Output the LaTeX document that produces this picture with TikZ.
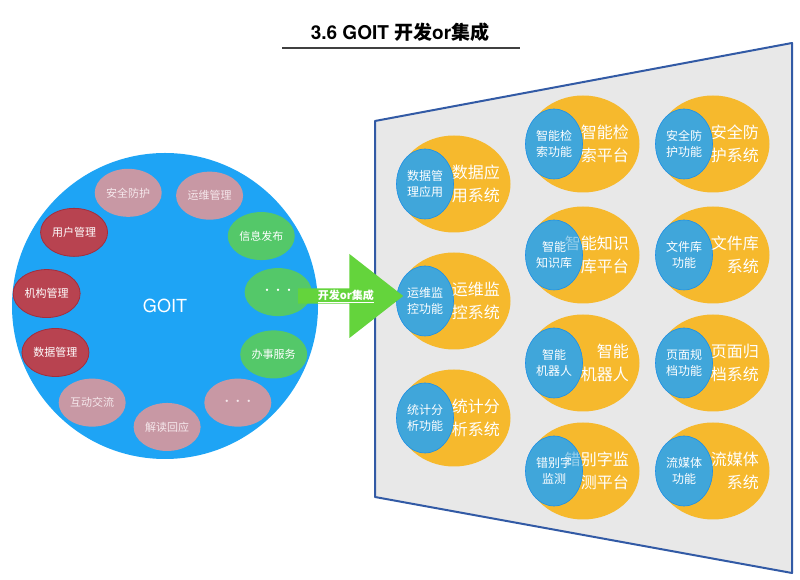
\documentclass[tikz,border=0pt]{standalone}
\usepackage{fontspec}
\setmainfont{TeX Gyre Heros}
\newfontfamily\cjk{Noto Sans CJK SC}
\usetikzlibrary{positioning,shapes.geometric,shapes.arrows}
\definecolor{goitblue}{RGB}{30,164,245}
\definecolor{modpink}{RGB}{200,152,164}
\definecolor{modpinktext}{RGB}{245,232,236}
\definecolor{modred}{RGB}{184,67,80}
\definecolor{modredline}{RGB}{165,45,60}
\definecolor{modgreen}{RGB}{84,200,105}
\definecolor{sysyellow}{RGB}{246,185,45}
\definecolor{funblue}{RGB}{64,166,218}
\definecolor{funline}{RGB}{30,144,230}
\definecolor{panelfill}{RGB}{232,232,232}
\definecolor{panelline}{RGB}{50,90,165}
\definecolor{arrowgreen}{RGB}{100,212,60}
\tikzset{titletext/.style={font=\bfseries\fontsize{19}{21}\selectfont,inner sep=0pt},
  titleline/.style={line width=1.2pt,black!75},
  goitnode/.style={circle,fill=goitblue,minimum size=306pt,inner sep=0pt,text=white,font=\fontsize{18}{20}\selectfont},
  modnode/.style={ellipse,minimum width=67pt,minimum height=48pt,inner sep=0pt,text=white,font=\cjk\fontsize{11}{13}\selectfont},
  pinkmod/.style={modnode,fill=modpink,text=modpinktext},
  redmod/.style={modnode,fill=modred,draw=modredline,line width=0.8pt},
  greenmod/.style={modnode,fill=modgreen},
  panel/.style={fill=panelfill,draw=panelline,line width=2pt,line join=round},
  sysnode/.style={ellipse,fill=sysyellow,minimum width=113pt,minimum height=97pt,inner sep=0pt},
  funbase/.style={ellipse,fill=funblue,minimum width=57pt,minimum height=70pt,inner sep=0pt},
  funnode/.style={funbase,draw=funline,line width=0.6pt,fill opacity=0.55,text opacity=1,
    text=white,align=center,font=\cjk\fontsize{12}{16}\selectfont},
  systext/.style={anchor=east,align=right,inner sep=0pt,text=white,font=\cjk\fontsize{16}{23}\selectfont},
  bigarrow/.style={single arrow,fill=arrowgreen,minimum height=105pt,minimum width=84pt,
    single arrow head extend=30pt,single arrow tip angle=76,inner sep=0pt,
    text=white,font=\cjk\bfseries\fontsize{11}{13}\selectfont}
}

\begin{document}
\begin{tikzpicture}[x=1pt,y=1pt]
  \useasboundingbox (0,0) rectangle (800,580);

  % Title
  \node[titletext,anchor=base] (title) at (400,540) {3.6 GOIT {\cjk 开发}or{\cjk 集成}};
  \draw[titleline] ([xshift=-118pt,yshift=-8pt]title.base) -- ([xshift=120pt,yshift=-8pt]title.base);

  % GOIT platform and its modules
  \node[goitnode] (goit) at (165,274) {GOIT};
  \foreach \a/\r/\t/\s in {108/119/安全防护/pinkmod, 68/119/运维管理/pinkmod, 36/119/信息发布/greenmod,
      7/114/···/greenmod, -24/119/办事服务/greenmod, -53/121/···/pinkmod,
      -89/121/解读回应/pinkmod, -127/121/互动交流/pinkmod, -157/119/数据管理/redmod,
      174/119/机构管理/redmod, 141/117/用户管理/redmod}
    \node[\s] (mod\a) at ([shift={(\a:\r)}]goit.center) {\t};

  % Target panel
  \coordinate (ptl) at (375,459);
  \coordinate (ptr) at (792,537);
  \coordinate (pbr) at (792,7);
  \coordinate (pbl) at (375,83);
  \filldraw[panel] (ptl) -- (ptr) -- (pbr) -- (pbl) -- cycle;

  % Systems on the panel
  \foreach \n/\x/\y/\f/\s in {
      data/454/396/{数据管\\理应用}/{数据应\\用系统},
      ops/454/279/{运维监\\控功能}/{运维监\\控系统},
      stat/454/162/{统计分\\析功能}/{统计分\\析系统},
      search/583/436/{智能检\\索功能}/{智能检\\索平台},
      know/583/325/{智能\\知识库}/{智能知识\\库平台},
      robot/583/217/{智能\\机器人}/{智能\\机器人},
      typo/583/109/{错别字\\监测}/{错别字监\\测平台},
      safe/713/436/{安全防\\护功能}/{安全防\\护系统},
      file/713/325/{文件库\\功能}/{文件库\\系统},
      page/713/217/{页面规\\档功能}/{页面归\\档系统},
      media/713/109/{流媒体\\功能}/{流媒体\\系统}}
  {
    \node[sysnode] (sys\n) at (\x,\y) {};
    \node[funbase] at ([xshift=-29pt]sys\n.center) {};
    \node[systext] at ([xshift=46pt]sys\n.center) {\s};
    \node[funnode] (fun\n) at ([xshift=-29pt]sys\n.center) {\f};
  }

  % Development or integration
  \node[bigarrow,anchor=tail] (arrow) at (298,284) {\underline{开发or集成}};

\end{tikzpicture}
\end{document}
